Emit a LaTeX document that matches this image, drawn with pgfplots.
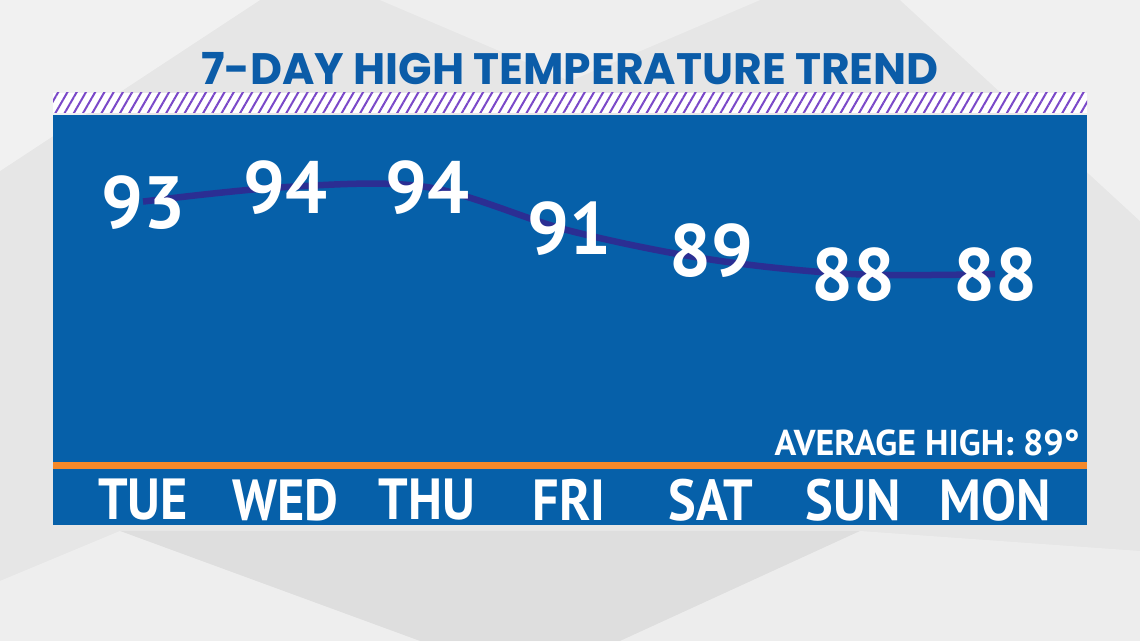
\documentclass[border=0pt]{standalone}
\usepackage{pgfplots}
\pgfplotsset{compat=1.18}
\usetikzlibrary{patterns.meta}
\usepackage{fontspec}
\setmainfont{PT Sans}
\newfontfamily\titlefont{Poppins}
\definecolor{bgcol}{HTML}{E6E6E6}
\definecolor{panelblue}{HTML}{0660A9}
\definecolor{linecol}{HTML}{2B2E93}
\definecolor{orangecol}{HTML}{F5892A}
\definecolor{titleblue}{HTML}{0B5CA8}
\definecolor{hatchcol}{HTML}{7A48C8}
\begin{document}
\begin{tikzpicture}[x=1pt,y=1pt]
\fill[bgcol] (0,0) rectangle (1140,641);
\fill[white,opacity=0.45] (0,641) -- (260,641) -- (0,470) -- cycle;
\fill[white,opacity=0.35] (380,641) -- (760,641) -- (570,560) -- cycle;
\fill[white,opacity=0.4] (1140,641) -- (900,641) -- (1140,420) -- cycle;
\fill[white,opacity=0.35] (0,0) -- (420,0) -- (120,110) -- (0,60) -- cycle;
\fill[white,opacity=0.3] (620,0) -- (1140,0) -- (1140,90) -- (860,110) -- cycle;
\fill[black,opacity=0.03] (420,0) -- (620,0) -- (860,110) -- (120,110) -- cycle;
\node[font=\titlefont\bfseries\fontsize{44}{48}\selectfont, text=titleblue] at (570,572) {7-DAY HIGH TEMPERATURE TREND};
\fill[white] (53,528) rectangle (1087,548);
\fill[pattern={Lines[angle=60,distance=8pt,line width=2pt]}, pattern color=hatchcol] (53,528) rectangle (1087,548);
\begin{axis}[
  at={(53pt,116pt)}, anchor=south west, scale only axis,
  width=1034pt, height=410pt,
  xmin=-0.634, xmax=6.648, ymin=70.7, ymax=98.97,
  axis background/.style={fill=panelblue},
  axis line style={draw=none},
  ytick=\empty,
  xtick={0,1,2,3,4,5,6},
  xticklabels={TUE,WED,THU,FRI,SAT,SUN,MON},
  major tick length=0pt,
  x tick label style={anchor=center, yshift=25pt, xscale=0.9, text=white, font=\bfseries\fontsize{58}{60}\selectfont},
  clip=false]
\addplot[linecol, line width=6.5pt, smooth, tension=0.55] table {
x y
0 93
1 94
2 94
3 91
4 89
5 88
6 88
};
\addplot[draw=none, mark=none, nodes near coords, point meta=explicit symbolic,
  visualization depends on={value \thisrow{dy} \as \dy},
  nodes near coords style={anchor=center, yshift=\dy pt, text=white, font=\bfseries\fontsize{74}{76}\selectfont}]
  table[meta=lab] {
x y dy lab
0 93 -1 93
1 94 -1 94
2 94 -1 94
3 91 2 91
4 89 9 89
5 88 -1 88
6 88 -1 88
};
\draw[orangecol, line width=7pt] (rel axis cs:0,0.144) -- (rel axis cs:1,0.144);
\node[anchor=east, inner sep=0pt, text=white, font=\bfseries\fontsize{36}{38}\selectfont] at (rel axis cs:0.993,0.2) {AVERAGE HIGH: 89°};
\end{axis}
\end{tikzpicture}
\end{document}
